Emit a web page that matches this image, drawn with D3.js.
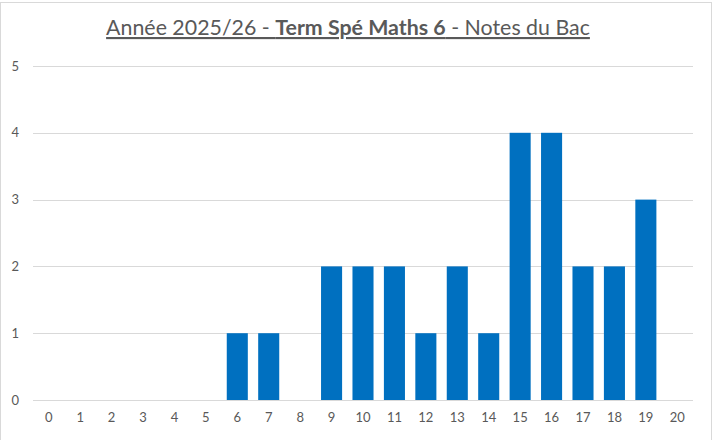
<!DOCTYPE html>
<html><head><meta charset="utf-8">
<script src="https://cdn.jsdelivr.net/npm/d3@7/dist/d3.min.js"></script>
<style>body{margin:0;background:#fff;}svg{display:block;font-family:Lato,"Open Sans",sans-serif;}</style>
</head><body>
<svg id="c" width="713" height="440"></svg>
<script>
const categories = ["0","1","2","3","4","5","6","7","8","9","10","11","12","13","14","15","16","17","18","19","20"];
const counts = [0,0,0,0,0,0,1,1,0,2,2,2,1,2,1,4,4,2,2,3,0];
const yTicks = [0,1,2,3,4,5];

const svg = d3.select("#c");
// outer frame
svg.append("rect").attr("x",0.5).attr("y",2.5).attr("width",711).attr("height",440).attr("fill","#fff").attr("stroke","#d9d9d9");

const x = d3.scaleBand().domain(categories).range([33,693]).paddingInner(0.33).paddingOuter(0.165);
const y = d3.scaleLinear().domain([0,5]).range([400,66]);

// gridlines
svg.append("g").selectAll("line").data(yTicks).join("line")
  .attr("x1",33).attr("x2",693).attr("y1",d=>Math.round(y(d))+0.5).attr("y2",d=>Math.round(y(d))+0.5)
  .attr("stroke","#d9d9d9").attr("stroke-width",1);

// bars
svg.append("g").selectAll("rect").data(categories).join("rect")
  .attr("x",d=>x(d)).attr("width",x.bandwidth())
  .attr("y",(d,i)=>y(counts[i])).attr("height",(d,i)=>y(0)-y(counts[i]))
  .attr("fill","#0070C0");

// y axis labels
const yAxis = d3.axisLeft(y).tickValues(yTicks).tickSize(0).tickPadding(0).tickFormat(d3.format("d"));
const ga = svg.append("g").attr("transform","translate(19,0)").call(yAxis);
ga.select(".domain").remove();
ga.selectAll("text").attr("fill","#595959").style("font-size","13px").style("font-family","Lato,'Open Sans',sans-serif");

// x axis labels
const xAxis = d3.axisBottom(x).tickSize(0).tickPadding(0);
const gx = svg.append("g").attr("transform","translate(0,413)").call(xAxis);
gx.select(".domain").remove();
gx.selectAll("text").attr("fill","#595959").style("font-size","13px").style("font-family","Lato,'Open Sans',sans-serif");

// title
const t = svg.append("text").attr("x",348).attr("y",35).attr("text-anchor","middle")
  .attr("fill","#595959").style("font-size","20px").style("text-decoration","underline");
t.append("tspan").text("Année 2025/26 - ");
t.append("tspan").attr("font-weight","bold").text("Term Spé Maths 6");
t.append("tspan").text(" - Notes du Bac");
const w = t.node().getComputedTextLength();
t.style("font-size",(20*484/w)+"px");
</script>
</body></html>
